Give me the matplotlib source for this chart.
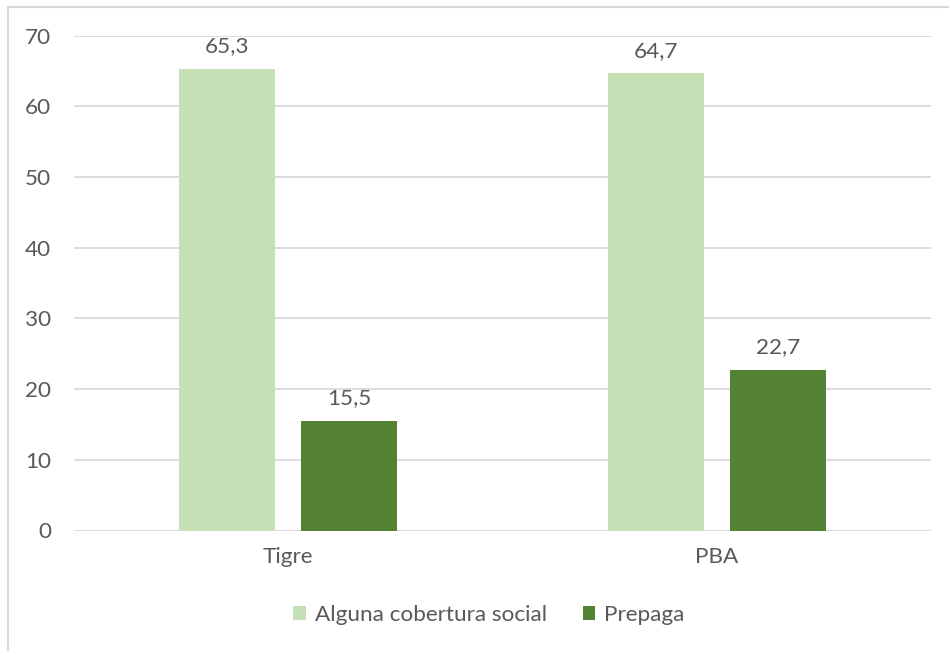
import matplotlib
matplotlib.use("Agg")
import matplotlib.pyplot as plt
from matplotlib.patches import Rectangle
import numpy as np

categories = ["Tigre", "PBA"]
series_names = ["Alguna cobertura social", "Prepaga"]
alguna = [65.3, 64.7]
prepaga = [15.5, 22.7]
y_ticks = [0, 10, 20, 30, 40, 50, 60, 70]

colors = ["#C5E0B4", "#548235"]
text_color = "#595959"
grid_color = "#D9D9D9"
fs = 16.2

plt.rcParams["font.family"] = ["Lato", "DejaVu Sans"]

W, H = 949, 651
fig = plt.figure(figsize=(W / 100, H / 100), dpi=100)
ax = fig.add_axes([73.5 / W, 1 - 530.5 / H, (931.5 - 73.5) / W, (530.5 - 35.7) / H])

x = np.arange(len(categories))
bw = 0.224
off = 0.142
for vals, sign, c, name in [(alguna, -1, colors[0], series_names[0]),
                            (prepaga, 1, colors[1], series_names[1])]:
    bars = ax.bar(x + sign * off, vals, width=bw, color=c, label=name, zorder=3)
    for b, v in zip(bars, vals):
        ax.annotate(f"{v:.1f}".replace(".", ","),
                    (b.get_x() + b.get_width() / 2, v),
                    xytext=(0, 9), textcoords="offset points",
                    ha="center", va="bottom", fontsize=fs, color=text_color)

ax.set_xlim(-0.5, 1.5)
ax.set_ylim(0, 70)
ax.set_yticks(y_ticks)
ax.set_xticks(x)
ax.set_xticklabels(categories)
ax.yaxis.grid(True, color=grid_color, linewidth=1.3, zorder=0)
ax.set_axisbelow(True)
for s in ax.spines.values():
    s.set_visible(False)
ax.tick_params(axis="both", length=0, labelsize=fs, labelcolor=text_color)
ax.tick_params(axis="y", pad=16)
ax.tick_params(axis="x", pad=12)

leg = fig.legend(loc="center", bbox_to_anchor=(489 / W, 1 - 615 / H), ncol=2,
                 frameon=False, fontsize=fs, handlelength=0.55, handleheight=0.55,
                 handletextpad=0.4, columnspacing=1.6)
for t in leg.get_texts():
    t.set_color(text_color)

# chart frame (top and left edges visible)
fig.add_artist(Rectangle((8 / W, -0.1), 1.2, 1 - 7 / H + 0.1, transform=fig.transFigure,
                         fill=False, edgecolor="#D9D9D9", linewidth=1.5))

fig.savefig("out.png", dpi=100, facecolor="white")
